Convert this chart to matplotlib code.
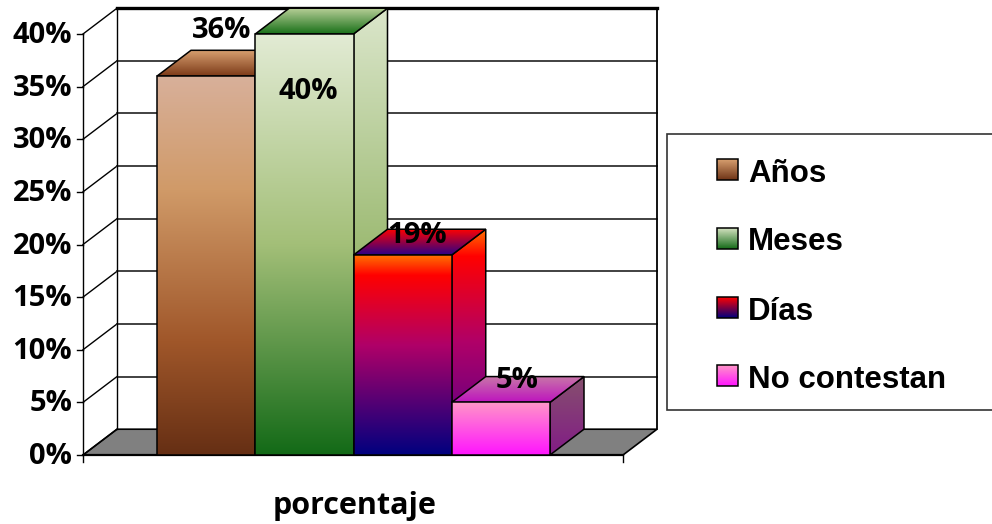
import numpy as np
import matplotlib
matplotlib.use("Agg")
import matplotlib.pyplot as plt
from matplotlib.colors import LinearSegmentedColormap
from matplotlib.patches import Polygon, Rectangle

categories = ["Años", "Meses", "Días", "No contestan"]
values = [36, 40, 19, 5]
value_labels = ["36%", "40%", "19%", "5%"]
y_ticks = [0, 5, 10, 15, 20, 25, 30, 35, 40]
x_title = "porcentaje"

# gradient stops, top to bottom
front_stops = [
    [(0, "#d8b09a"), (0.3, "#d09a68"), (0.7, "#a0572a"), (1, "#662f14")],
    [(0, "#e2ebd4"), (0.5, "#a3bf78"), (1, "#136a17")],
    [(0, "#ff7000"), (0.1, "#ff0000"), (0.45, "#b00068"), (1, "#00007f")],
    [(0, "#ff96c8"), (1, "#ff14ff")],
]
side_stops = [
    [(0, "#d09a68"), (1, "#662f14")],
    [(0, "#dbe6cb"), (0.55, "#9cba72"), (1, "#136a17")],
    [(0, "#ff7000"), (0.12, "#ff0000"), (0.5, "#b00068"), (1, "#48008c")],
    [(0, "#86506e"), (1, "#821c86")],
]
top_stops = [
    [(0, "#d8a070"), (1, "#7c3a18")],
    [(0, "#b8cf98"), (1, "#187018")],
    [(0, "#ff0000"), (1, "#2a0088")],
    [(0, "#c878a8"), (1, "#be14be")],
]
legend_stops = [
    [(0, "#d8a070"), (1, "#6e3316")],
    [(0, "#d4e2c0"), (1, "#136a17")],
    [(0, "#ff0000"), (1, "#00007f")],
    [(0, "#ff96c8"), (1, "#ff14ff")],
]

comic = ["Open Sans", "DejaVu Sans"]
W, H = 992, 524
bar_px = 98.25
pct_px = 10.525
x0_px, y0_px = 157, 455
dx = 34 / bar_px
dy = 25.8 / pct_px
x_left = (83 - x0_px) / bar_px
x_right = (623 - x0_px) / bar_px

fig = plt.figure(figsize=(W / 100, H / 100), dpi=100)
ax = fig.add_axes([0, 0, 1, 1])
ax.axis("off")


def set_limits():
    ax.set_xlim(-x0_px / bar_px, (W - x0_px) / bar_px)
    ax.set_ylim(-(H - y0_px) / pct_px, y0_px / pct_px)


def gradient(stops, pts, z, axes=None, flip=False):
    # fill polygon pts with a vertical gradient
    target = axes if axes is not None else ax
    cmap = LinearSegmentedColormap.from_list("g", stops)
    pts = np.array(pts)
    lo, hi = pts[:, 1].min(), pts[:, 1].max()
    if flip:
        lo, hi = hi, lo
    im = target.imshow(np.linspace(0, 1, 256)[:, None], cmap=cmap, aspect="auto", origin="upper",
                       extent=[pts[:, 0].min(), pts[:, 0].max(), lo, hi],
                       zorder=z, interpolation="bilinear")
    poly = Polygon(pts, closed=True, facecolor="none", edgecolor="black", lw=1.1, zorder=z + 0.1)
    target.add_patch(poly)
    im.set_clip_path(poly)


# walls and floor
top = y_ticks[-1] + dy
ax.add_patch(Polygon([(x_left, 0), (x_left + dx, dy), (x_right + dx, dy), (x_right, 0)],
                     facecolor="#808080", edgecolor="black", lw=1.2, zorder=1))
for t in y_ticks:
    ax.plot([x_left, x_left + dx], [t, t + dy], color="black", lw=1, zorder=1)
    ax.plot([x_left - 6 / bar_px, x_left], [t, t], color="black", lw=1, zorder=1)
    if t > 0 and t < y_ticks[-1]:
        ax.plot([x_left + dx, x_right + dx], [t + dy, t + dy], color="#333333", lw=1.3, zorder=1)
ax.plot([x_left + dx, x_right + dx], [top, top], color="black", lw=2.4, zorder=1)
ax.plot([x_left + dx, x_left + dx], [dy, top], color="black", lw=1, zorder=1)
ax.plot([x_right + dx, x_right + dx], [dy, top], color="black", lw=1.3, zorder=1)
ax.plot([x_left, x_left], [-7 / pct_px, y_ticks[-1]], color="black", lw=1, zorder=1)
ax.plot([x_left, x_right], [0, 0], color="black", lw=1.6, zorder=1)
ax.plot([x_right, x_right], [-7 / pct_px, 0], color="black", lw=1, zorder=1)

# bars, left to right so each one covers the last
for i, v in enumerate(values):
    z = 3 + i
    gradient(side_stops[i], [(i + 1, 0), (i + 1 + dx, dy), (i + 1 + dx, v + dy), (i + 1, v)], z)
    gradient(top_stops[i], [(i, v), (i + dx, v + dy), (i + 1 + dx, v + dy), (i + 1, v)], z + 0.2)
    gradient(front_stops[i], [(i, 0), (i + 1, 0), (i + 1, v), (i, v)], z + 0.4)

label_pos = [(0.66, 40.35), (1.54, 34.5), (2.65, 20.9), (3.66, 7.05)]
for (lx, ly), txt in zip(label_pos, value_labels):
    ax.text(lx, ly, txt, fontsize=21, family=comic, fontweight="bold", ha="center", va="center", zorder=20)

for t in y_ticks:
    ax.text(x_left - 11 / bar_px, t - 0.15, f"{t}%", fontsize=21, family=comic, fontweight="bold",
            ha="right", va="center", zorder=20)

ax.text(2.015, -4.8, x_title, fontsize=22, family=comic, fontweight="bold", ha="center", va="center", zorder=20)
set_limits()

# legend on its own pixel axes
leg = fig.add_axes([0, 0, 1, 1], facecolor="none")
leg.axis("off")
leg.add_patch(Rectangle((667, 134), 340, 276, facecolor="white", edgecolor="#333333", lw=1.2, zorder=1))
swatch_tops = [159, 228, 297, 365]
for name, stops, sy in zip(categories, legend_stops, swatch_tops):
    sw = [(717, sy), (738, sy), (738, sy + 21), (717, sy + 21)]
    gradient(stops, sw, 2, axes=leg, flip=True)
    leg.text(748, sy + 14.5, name, fontsize=22.5, family="Liberation Sans", fontweight="bold",
             ha="left", va="center", zorder=5)
leg.set_xlim(0, W)
leg.set_ylim(H, 0)

fig.savefig("out.png", dpi=100)
